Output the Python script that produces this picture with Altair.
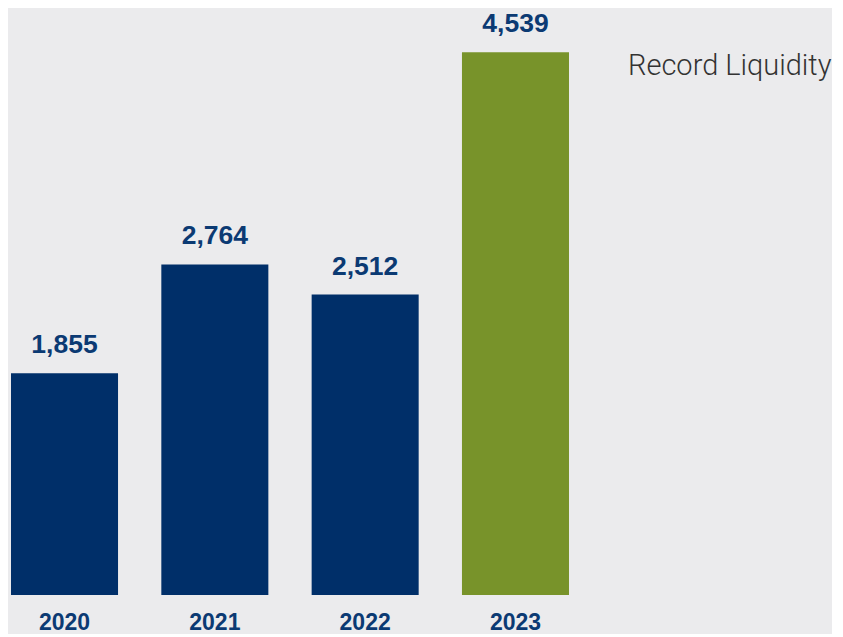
import altair as alt
import pandas as pd

years = ["2020", "2021", "2022", "2023"]
values = [1855, 2764, 2512, 4539]
labels = ["1,855", "2,764", "2,512", "4,539"]
kinds = ["normal", "normal", "normal", "record"]
annotation = ["Record Liquidity"]

df = pd.DataFrame({"year": years, "value": values, "label": labels, "kind": kinds})
ann = pd.DataFrame({"text": annotation})

NAVY = "#002F69"
GREEN = "#78932A"
LABEL = "#0B3A73"
BG = "#EBEBED"

x = alt.X("year:N", title=None, sort=years,
          scale=alt.Scale(paddingInner=0.288, paddingOuter=0.02),
          axis=alt.Axis(labelAngle=0, domain=False, ticks=False, labelFont="Liberation Sans",
                        labelFontWeight="bold", labelFontSize=23, labelColor=LABEL,
                        labelPadding=16))
y = alt.Y("value:Q", title=None, scale=alt.Scale(domain=[0, 4908], nice=False),
          axis=None)

base = alt.Chart(df).encode(x=x, y=y)

bars = base.mark_bar().encode(
    color=alt.Color("kind:N", scale=alt.Scale(domain=["normal", "record"], range=[NAVY, GREEN]),
                    legend=None)
)

text = base.mark_text(font="Liberation Sans", fontWeight="bold", fontSize=26.5, color=LABEL,
                      baseline="alphabetic", dy=-20).encode(text="label:N")

note = alt.Chart(ann).mark_text(font="Roboto", fontWeight=300, fontSize=29, color="#333333",
                                align="left", baseline="alphabetic").encode(
    x=alt.value(620), y=alt.value(67), text="text:N")

chart = alt.layer(bars, text, note).properties(
    width=564, height=587, background=BG, padding=0
).configure_view(stroke=None)

chart.save("out.html", embed_options={"renderer": "svg", "actions": False})
